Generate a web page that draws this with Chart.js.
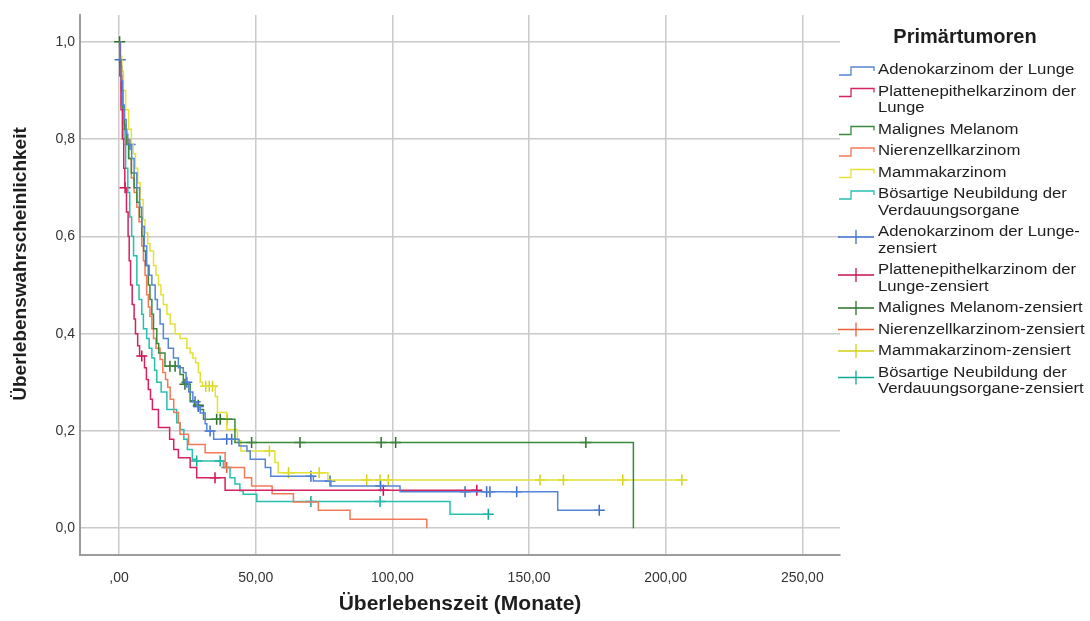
<!DOCTYPE html>
<html>
<head>
<meta charset="utf-8">
<script src="https://cdn.jsdelivr.net/npm/chart.js@4"></script>
<style>
  html, body { margin: 0; padding: 0; background: #ffffff; }
  #wrap { width: 1090px; height: 621px; position: relative; }
</style>
</head>
<body>
<div id="wrap"><canvas id="km" width="1090" height="621"></canvas></div>
<script>
// Kaplan-Meier survival by primary tumour: [month, survival probability after the event]
const adenoSteps = [[0,1],[0.3,0.963],[0.8,0.92],[1.3,0.87],[1.9,0.84],[2.6,0.81],[3.2,0.789],[4.6,0.76],[5.5,0.73],[6.5,0.70],[7.5,0.66],[8.3,0.62],[9.2,0.58],[10.1,0.54],[11,0.52],[12,0.50],[13.2,0.47],[14,0.45],[15,0.42],[16.2,0.39],[18,0.37],[19.9,0.35],[21.7,0.33],[23.5,0.32],[24.5,0.30],[25.5,0.28],[27,0.26],[28.5,0.25],[29.7,0.237],[31.5,0.215],[32.1,0.20],[34.6,0.183],[43.9,0.169],[46.8,0.159],[48,0.142],[53.5,0.125],[55.5,0.107],[71.1,0.097],[77.5,0.087],[102.8,0.075],[160.5,0.037],[175.7,0.037]];
const adenoCensored = [[0.4,0.963],[4,0.789],[24.8,0.30],[27.8,0.26],[29,0.25],[33.3,0.20],[39.4,0.183],[41.2,0.183],[70.2,0.107],[77.2,0.097],[95.7,0.087],[126.6,0.075],[134.5,0.075],[135.7,0.075],[145.5,0.075],[175.7,0.037]];

const plattenSteps = [[0,1],[0.3,0.93],[0.7,0.86],[1.2,0.80],[1.7,0.74],[2.1,0.70],[2.7,0.65],[3.3,0.60],[3.7,0.55],[4.2,0.50],[4.8,0.46],[5.5,0.43],[6,0.40],[6.8,0.375],[7.5,0.354],[9.3,0.33],[10,0.306],[10.7,0.285],[11.5,0.265],[12.2,0.244],[14.4,0.207],[18.5,0.183],[20,0.162],[21.7,0.145],[26,0.125],[28.4,0.104],[38.8,0.078],[130.9,0.078]];
const plattenCensored = [[2.2,0.70],[8.3,0.354],[35.1,0.104],[96.7,0.078],[130.9,0.078]];

const melanomSteps = [[0,1],[0.4,0.95],[0.9,0.90],[1.4,0.86],[2,0.82],[2.8,0.79],[3.5,0.76],[4.5,0.73],[5.5,0.70],[6.5,0.67],[7.5,0.64],[8.3,0.60],[9,0.57],[9.7,0.54],[10.7,0.50],[11.3,0.47],[12,0.44],[12.6,0.41],[13.8,0.38],[14.5,0.36],[16.8,0.333],[22.3,0.316],[23.5,0.296],[26,0.262],[27.5,0.253],[29.7,0.244],[30.9,0.224],[42.4,0.176],[188.2,0]];
const melanomCensored = [[0.2,1],[18.6,0.333],[20.5,0.333],[24.1,0.296],[29,0.253],[35.7,0.224],[37,0.224],[39.4,0.224],[48.5,0.176],[66.2,0.176],[95.9,0.176],[101.2,0.176],[170.8,0.176]];

const nierenSteps = [[0,1],[0.5,0.93],[1,0.87],[1.6,0.83],[2.4,0.80],[3.5,0.76],[4.5,0.72],[5.5,0.69],[6.5,0.66],[7.3,0.63],[8.3,0.58],[8.9,0.55],[9.5,0.52],[10.1,0.48],[10.7,0.455],[11.3,0.436],[12,0.41],[12.6,0.39],[13.5,0.37],[15,0.347],[16,0.32],[17,0.306],[17.8,0.29],[18.7,0.265],[20,0.238],[21.7,0.217],[22.3,0.193],[25.4,0.172],[31.5,0.155],[38.8,0.125],[45.9,0.104],[48.5,0.087],[56,0.071],[63.8,0.054],[72.9,0.037],[84.5,0.0185],[112.6,0]];
const nierenCensored = [[39.4,0.125]];

const mammaSteps = [[0,1],[0.5,0.97],[1,0.94],[1.6,0.90],[2.4,0.86],[3.5,0.82],[4.5,0.79],[5.2,0.77],[6,0.74],[6.8,0.71],[7.7,0.676],[8.8,0.634],[9.5,0.607],[10.5,0.585],[11.3,0.57],[12.6,0.54],[13.5,0.52],[14.4,0.50],[15.3,0.48],[16.2,0.46],[17.5,0.44],[18.7,0.42],[20.5,0.40],[22.3,0.39],[24.8,0.37],[26,0.36],[27,0.35],[28,0.34],[29,0.32],[29.7,0.30],[30.5,0.292],[35.2,0.271],[36,0.238],[39.4,0.203],[43.3,0.18],[44.6,0.159],[57,0.135],[58.2,0.114],[76.4,0.099],[206,0.099]];
const mammaCensored = [[31.7,0.292],[33,0.292],[34.2,0.292],[55,0.159],[62,0.114],[73.2,0.114],[90.6,0.099],[95.5,0.099],[98.5,0.099],[154,0.099],[162.6,0.099],[184.3,0.099],[205.9,0.099]];

const verdauungSteps = [[0,1],[0.4,0.93],[0.9,0.87],[1.4,0.82],[1.8,0.80],[2.4,0.74],[3.2,0.69],[3.9,0.64],[4.6,0.60],[5.3,0.56],[6.5,0.50],[7.3,0.47],[8.3,0.44],[8.9,0.41],[10.1,0.39],[11,0.37],[12,0.35],[13,0.325],[13.8,0.30],[15.4,0.28],[17.5,0.244],[21.1,0.217],[22.3,0.203],[23.7,0.183],[25,0.162],[26.8,0.142],[28,0.138],[38.2,0.125],[40.6,0.104],[42.4,0.091],[44.2,0.077],[45.4,0.07],[50.4,0.055],[121.1,0.029],[135.1,0.029]];
const verdauungCensored = [[28.4,0.138],[37,0.138],[70.2,0.055],[95.5,0.055],[135.1,0.029]];

const groupLabels = [
  ['Adenokarzinom der Lunge'],
  ['Plattenepithelkarzinom der', 'Lunge'],
  ['Malignes Melanom'],
  ['Nierenzellkarzinom'],
  ['Mammakarzinom'],
  ['Bösartige Neubildung der', 'Verdauungsorgane']
];
const censoredLabels = [
  ['Adenokarzinom der Lunge-', 'zensiert'],
  ['Plattenepithelkarzinom der', 'Lunge-zensiert'],
  ['Malignes Melanom-zensiert'],
  ['Nierenzellkarzinom-zensiert'],
  ['Mammakarzinom-zensiert'],
  ['Bösartige Neubildung der', 'Verdauungsorgane-zensiert']
];
const legendTitle = 'Primärtumoren';
const xTitle = 'Überlebenszeit (Monate)';
const yTitle = 'Überlebenswahrscheinlichkeit';
const xTickValues = [0, 50, 100, 150, 200, 250];
const yTickValues = [0, 0.2, 0.4, 0.6, 0.8, 1.0];

const lineColors = ['#5685d6', '#d62260', '#3b8a3b', '#f37a58', '#e4e236', '#27bfb0'];
const markColors = ['#3d6cc8', '#c8104e', '#2c702c', '#e8603a', '#d4d018', '#12a898'];

const FONT = '"Liberation Sans", Arial, Helvetica, sans-serif';

const stepSeries = [adenoSteps, plattenSteps, melanomSteps, nierenSteps, mammaSteps, verdauungSteps];
const censorSeries = [adenoCensored, plattenCensored, melanomCensored, nierenCensored, mammaCensored, verdauungCensored];

const toXY = arr => arr.map(([x, y]) => ({ x, y }));

const datasets = [];
stepSeries.forEach((s, i) => {
  datasets.push({
    type: 'line',
    label: groupLabels[i].join(' '),
    data: toXY(s),
    stepped: 'before',
    borderColor: lineColors[i],
    borderWidth: 1.5,
    pointRadius: 0,
    fill: false,
    tension: 0
  });
});
censorSeries.forEach((s, i) => {
  datasets.push({
    type: 'scatter',
    label: censoredLabels[i].join(' '),
    data: toXY(s),
    showLine: false,
    pointStyle: 'cross',
    pointRadius: 5.5,
    pointBorderWidth: 1.5,
    borderColor: markColors[i],
    backgroundColor: markColors[i]
  });
});

const fmtComma = (v, digits) => {
  const s = v.toFixed(digits).replace('.', ',');
  return s.startsWith('0,') && digits === 2 ? s.slice(1) : s;
};

// Vertical axis title, placed along the left edge
const yAxisTitle = {
  id: 'yAxisTitle',
  afterDraw(chart) {
    const ctx = chart.ctx;
    ctx.save();
    ctx.translate(21, 264);
    ctx.rotate(-Math.PI / 2);
    ctx.font = 'bold 19px ' + FONT;
    ctx.fillStyle = '#1e1e1e';
    ctx.textAlign = 'center';
    ctx.textBaseline = 'middle';
    ctx.fillText(yTitle, 0, 0);
    ctx.restore();
  }
};

// Legend drawn to the right of the plot: step glyphs for curves, crosses for censored cases
const sideLegend = {
  id: 'sideLegend',
  afterDraw(chart) {
    const ctx = chart.ctx;
    ctx.save();
    ctx.fillStyle = '#1e1e1e';
    ctx.textBaseline = 'middle';
    ctx.font = 'bold 20px ' + FONT;
    ctx.textAlign = 'center';
    ctx.fillText(legendTitle, 965, 37);

    ctx.font = '15.5px ' + FONT;
    ctx.textAlign = 'left';
    const lineH = 16.5;
    const gap = 21.5;
    let y = 70;
    const items = [];
    groupLabels.forEach((lab, i) => items.push({ lines: lab, kind: 'line', i }));
    censoredLabels.forEach((lab, i) => items.push({ lines: lab, kind: 'cross', i }));
    items.forEach(it => {
      const n = it.lines.length;
      it.lines.forEach((t, k) => {
        ctx.save();
        ctx.translate(878, y + k * lineH);
        ctx.scale(1.08, 1);
        ctx.fillStyle = '#1e1e1e';
        ctx.fillText(t, 0, 0);
        ctx.restore();
      });
      ctx.lineWidth = 1.3;
      if (it.kind === 'line') {
        const cy = y + 1;
        ctx.strokeStyle = lineColors[it.i];
        ctx.beginPath();
        ctx.moveTo(839, cy + 4);
        ctx.lineTo(851, cy + 4);
        ctx.lineTo(851, cy - 4);
        ctx.lineTo(874, cy - 4);
        ctx.lineTo(874, cy);
        ctx.stroke();
      } else {
        const cy = n > 1 ? y + 5 : y;
        ctx.strokeStyle = markColors[it.i];
        ctx.beginPath();
        ctx.moveTo(838, cy);
        ctx.lineTo(874, cy);
        ctx.moveTo(856, cy - 7);
        ctx.lineTo(856, cy + 7);
        ctx.stroke();
      }
      y += (n - 1) * lineH + gap;
    });
    ctx.restore();
  }
};

new Chart(document.getElementById('km'), {
  type: 'line',
  data: { datasets },
  plugins: [sideLegend, yAxisTitle],
  options: {
    responsive: false,
    animation: false,
    events: [],
    layout: { padding: { top: 15, right: 250, left: 0, bottom: 0 } },
    plugins: { legend: { display: false }, tooltip: { enabled: false } },
    scales: {
      x: {
        type: 'linear',
        min: -14.3,
        max: 263.8,
        afterBuildTicks: s => { s.ticks = xTickValues.map(v => ({ value: v })); },
        afterFit: s => { s.height = 66; },
        grid: { color: '#cacaca', lineWidth: 1.5, drawTicks: false },
        border: { display: true, color: '#9c9c9c', width: 2 },
        ticks: {
          padding: 15,
          color: '#333',
          font: { size: 14, family: FONT },
          callback: v => fmtComma(v, 2)
        },
        title: {
          display: true, text: xTitle, color: '#1e1e1e',
          font: { size: 21, weight: 'bold', family: FONT },
          padding: { top: 0, bottom: 4 }
        }
      },
      y: {
        type: 'linear',
        min: -0.055,
        max: 1.055,
        afterBuildTicks: s => { s.ticks = yTickValues.map(v => ({ value: v })); },
        afterFit: s => { s.width = 80; },
        grid: { color: '#cacaca', lineWidth: 1.5, drawTicks: false },
        border: { display: true, color: '#9c9c9c', width: 2 },
        ticks: {
          padding: 5,
          color: '#333',
          font: { size: 14, family: FONT },
          callback: v => fmtComma(v, 1)
        },
        title: { display: false }
      }
    }
  }
});
</script>
</body>
</html>
